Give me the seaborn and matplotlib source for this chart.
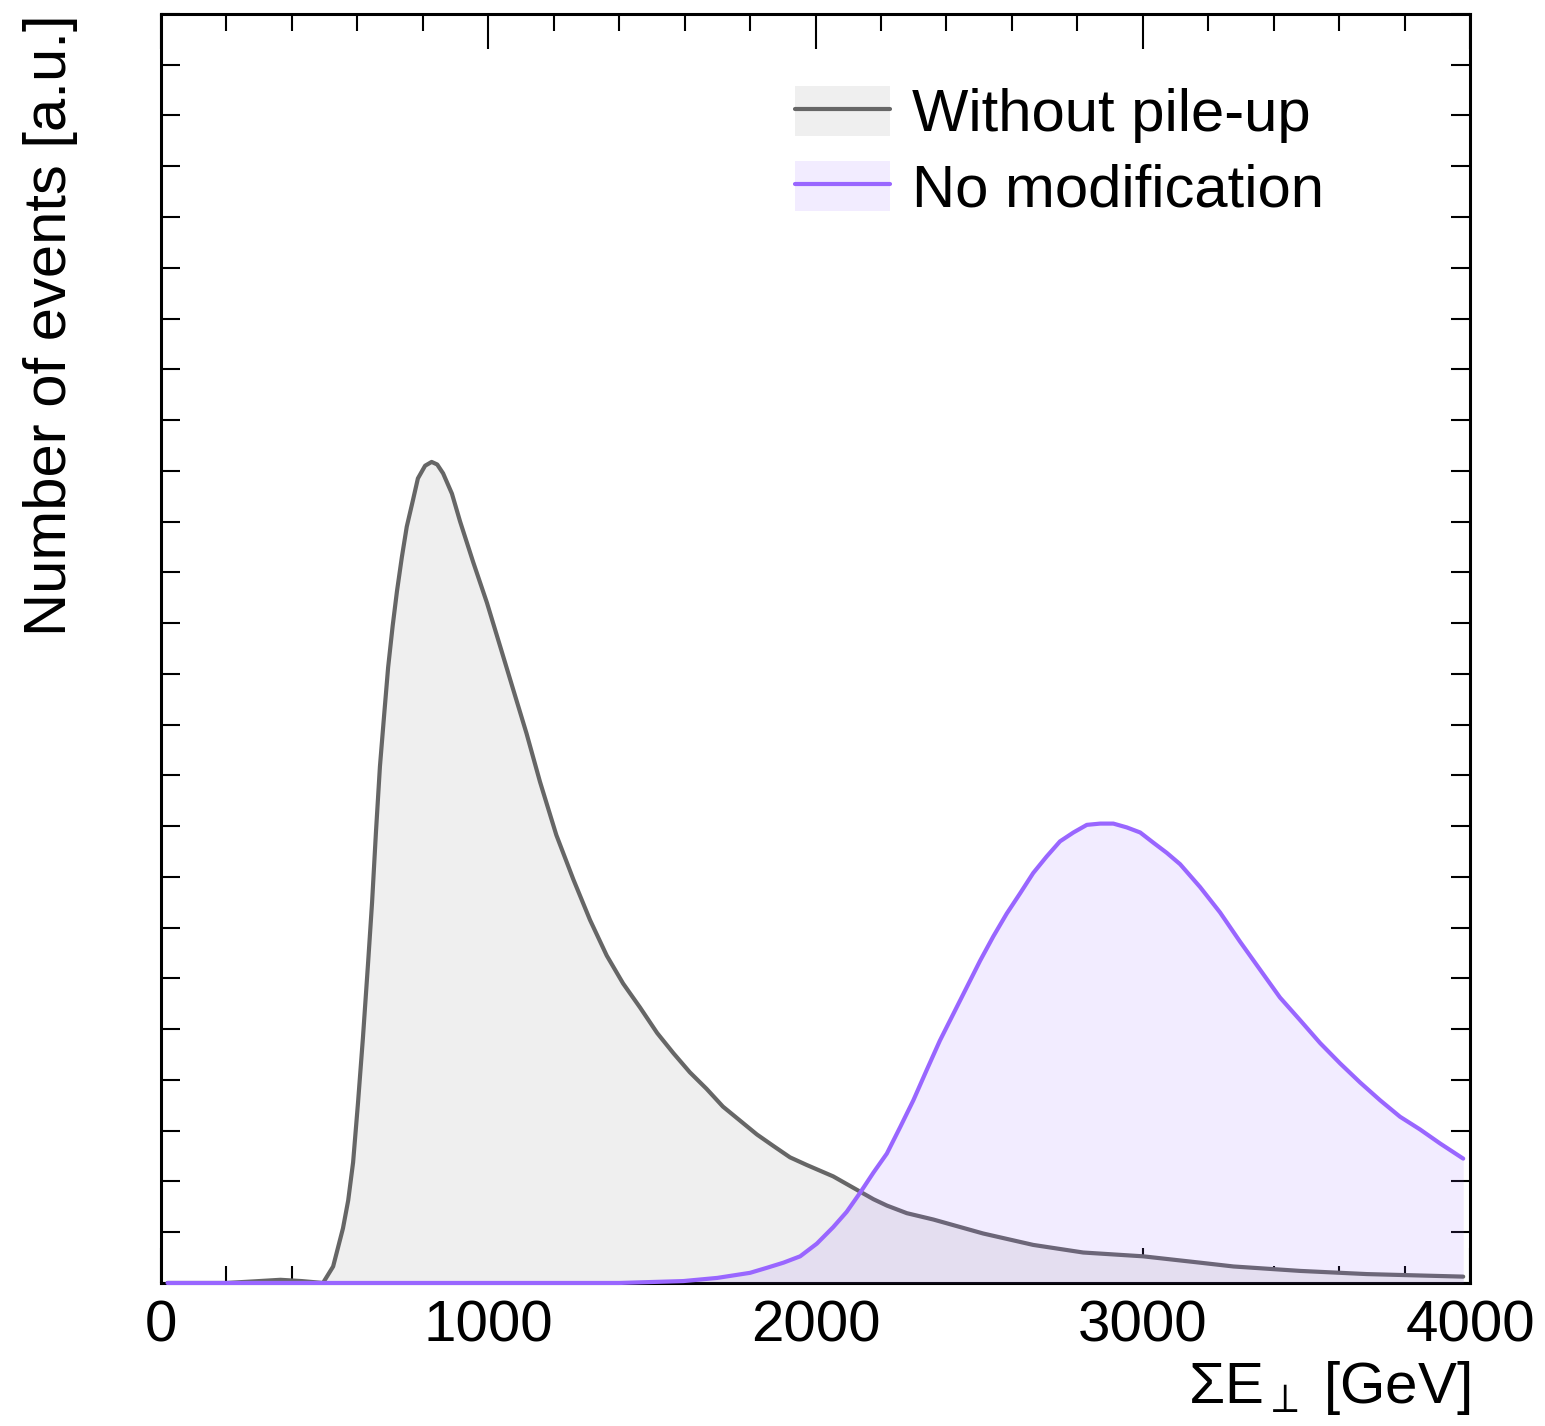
import matplotlib
matplotlib.use("Agg")
import matplotlib.pyplot as plt
from matplotlib.lines import Line2D
from matplotlib.patches import Patch
from matplotlib.ticker import MultipleLocator, NullFormatter
import pandas as pd
import seaborn as sns

# Datos (Sum E_T en GeV, eventos normalizados)
et_nopu = [20, 200, 300, 365, 430, 495, 526, 556, 572, 587, 602, 617, 633, 645, 657,
           669, 682, 694, 708, 721, 736, 751, 770, 785, 807, 827, 844, 862, 889, 914,
           954, 996, 1036, 1077, 1117, 1158, 1208, 1260, 1311, 1362, 1412, 1464, 1516,
           1566, 1616, 1667, 1717, 1769, 1821, 1871, 1922, 1973, 2054, 2136, 2177, 2218,
           2279, 2360, 2512, 2665, 2818, 3001, 3175, 3277, 3481, 3685, 3979]
ev_nopu = [0, 0, 0.0015, 0.0025, 0.0015, 0, 0.013, 0.043, 0.065, 0.095, 0.142, 0.193,
           0.253, 0.300, 0.356, 0.407, 0.448, 0.485, 0.518, 0.545, 0.572, 0.596, 0.617,
           0.634, 0.644, 0.647, 0.645, 0.638, 0.622, 0.600, 0.568, 0.536, 0.502, 0.467,
           0.433, 0.395, 0.353, 0.318, 0.286, 0.258, 0.236, 0.217, 0.197, 0.181, 0.166,
           0.153, 0.139, 0.128, 0.117, 0.108, 0.099, 0.093, 0.084, 0.072, 0.066, 0.061,
           0.055, 0.050, 0.039, 0.030, 0.024, 0.021, 0.016, 0.013, 0.0095, 0.007, 0.005]

et_nomod = [20, 1400, 1596, 1700, 1800, 1852, 1902, 1953, 2004, 2054, 2095, 2136, 2177,
            2218, 2259, 2299, 2340, 2380, 2421, 2462, 2503, 2543, 2584, 2625, 2665, 2706,
            2747, 2788, 2829, 2870, 2910, 2951, 2992, 3032, 3073, 3114, 3175, 3236, 3297,
            3358, 3419, 3481, 3542, 3603, 3664, 3725, 3786, 3847, 3908, 3979]
ev_nomod = [0, 0, 0.0015, 0.004, 0.008, 0.012, 0.016, 0.021, 0.031, 0.044, 0.056, 0.071,
            0.087, 0.102, 0.123, 0.144, 0.168, 0.191, 0.212, 0.233, 0.254, 0.273, 0.291,
            0.307, 0.323, 0.336, 0.348, 0.355, 0.361, 0.362, 0.362, 0.359, 0.355, 0.347,
            0.339, 0.330, 0.312, 0.292, 0.269, 0.247, 0.225, 0.207, 0.189, 0.173, 0.158,
            0.144, 0.131, 0.121, 0.110, 0.098]

labels = ["Without pile-up", "No modification"]

df_nopu = pd.DataFrame({"et": et_nopu, "ev": ev_nopu})
df_nomod = pd.DataFrame({"et": et_nomod, "ev": ev_nomod})

sns.set_style("ticks")
plt.rcParams["font.family"] = ["Liberation Sans", "DejaVu Sans"]
plt.rcParams["mathtext.fontset"] = "custom"
plt.rcParams["mathtext.rm"] = "Liberation Sans"
plt.rcParams["mathtext.it"] = "Liberation Sans:italic"
plt.rcParams["text.color"] = "black"
plt.rcParams["axes.labelcolor"] = "black"
plt.rcParams["axes.edgecolor"] = "black"
plt.rcParams["xtick.color"] = "black"
plt.rcParams["ytick.color"] = "black"

gray_line = "#666666"
gray_fill = "#efefef"
purple_line = "#9966ff"

fig = plt.figure(figsize=(15.45, 14.26), dpi=100)
ax = fig.add_axes([0.1042, 0.1003, 0.8473, 0.8899])

# Sin pile-up
ax.fill_between(df_nopu["et"], df_nopu["ev"], color=gray_fill, lw=0, zorder=1)
sns.lineplot(data=df_nopu, x="et", y="ev", color=gray_line, lw=3, ax=ax, zorder=2)

# Sin modificacion
ax.fill_between(df_nomod["et"], df_nomod["ev"], color=purple_line, alpha=0.12, lw=0, zorder=3)
sns.lineplot(data=df_nomod, x="et", y="ev", color=purple_line, lw=3, ax=ax, zorder=4,
             clip_on=False)

ax.set_xlim(0, 4000)
ax.set_ylim(0, 1)

ax.xaxis.set_major_locator(MultipleLocator(1000))
ax.xaxis.set_minor_locator(MultipleLocator(200))
ax.yaxis.set_major_locator(MultipleLocator(0.04))
ax.yaxis.set_major_formatter(NullFormatter())

ax.tick_params(axis="x", which="major", direction="in", length=25, width=1.5,
               top=True, bottom=True, labelsize=42, pad=12)
ax.tick_params(axis="x", which="minor", direction="in", length=12, width=1.5,
               top=True, bottom=True)
ax.tick_params(axis="y", which="major", direction="in", length=14, width=1.5,
               left=True, right=True)
for sp in ax.spines.values():
    sp.set_linewidth(2.2)
    sp.set_visible(True)

ax.set_xlabel(r"$\mathrm{\Sigma E}_{\perp}$ [GeV]", fontsize=42, loc="right", labelpad=4)
ax.set_ylabel("Number of events [a.u.]", fontsize=43, loc="top", labelpad=56)

handles = [
    (Patch(facecolor=gray_fill, edgecolor="none"), Line2D([], [], color=gray_line, lw=3)),
    (Patch(facecolor=purple_line, alpha=0.12, edgecolor="none"),
     Line2D([], [], color=purple_line, lw=3)),
]
ax.legend(handles, labels, loc="upper left", bbox_to_anchor=(0.466, 0.962),
          frameon=False, fontsize=43, handlelength=1.6, handleheight=0.9,
          handletextpad=0.36, labelspacing=0.3, borderaxespad=0)

plt.savefig("out.png", dpi=100)
